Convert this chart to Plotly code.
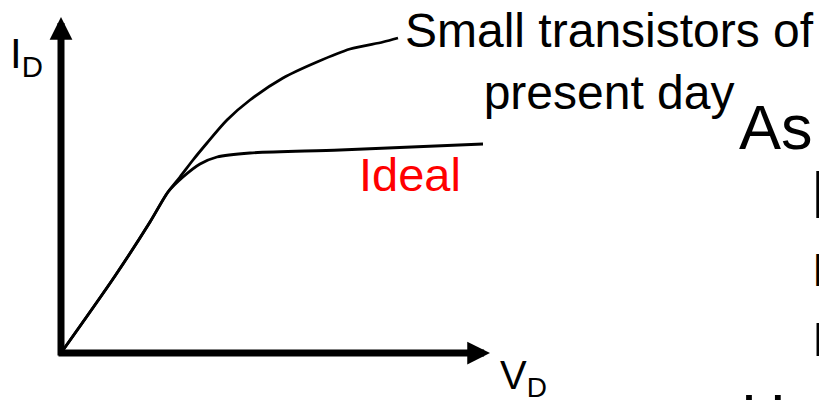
import plotly.graph_objects as go

# ---- data (V_D, I_D in arbitrary units) ----
vd_small = [0.0, 1.35, 2.225, 2.675, 2.975, 3.3, 3.65, 4.15, 4.725, 5.55, 6.4, 7.225, 8.05, 8.425]
id_small = [0.0, 1.925, 3.275, 4.025, 4.4, 4.825, 5.25, 5.825, 6.325, 6.875, 7.275, 7.6, 7.775, 7.875]
vd_ideal = [0.0, 1.35, 2.225, 2.675, 3.05, 3.475, 3.9, 4.725, 6.975, 10.55]
id_ideal = [0.0, 1.925, 3.275, 4.025, 4.4, 4.725, 4.9, 5.0, 5.075, 5.225]

x_axis_end = 10.725
y_axis_end = 8.4

W, H = 819, 400
X_RANGE = [-61 / 40, (W - 61) / 40]
Y_RANGE = [-(H - 353) / 40, 353 / 40]

FONT = "Arial, Liberation Sans, sans-serif"

fig = go.Figure()
fig.add_trace(go.Scatter(x=vd_small, y=id_small, mode="lines",
                         line=dict(color="black", width=2.8, shape="spline", smoothing=0.8),
                         hoverinfo="skip"))
fig.add_trace(go.Scatter(x=vd_ideal, y=id_ideal, mode="lines",
                         line=dict(color="black", width=2.8, shape="spline", smoothing=0.8),
                         hoverinfo="skip"))


def px2paper(px, py):
    return px / W, 1 - py / H


annotations = []
# axes arrows
annotations.append(dict(x=x_axis_end, y=0, ax=-0.1, ay=0, xref="x", yref="y", axref="x", ayref="y",
                        text="", showarrow=True, arrowhead=2, arrowwidth=7, arrowsize=0.65,
                        arrowcolor="black", standoff=0))
annotations.append(dict(x=0, y=y_axis_end, ax=0, ay=-0.1, xref="x", yref="y", axref="x", ayref="y",
                        text="", showarrow=True, arrowhead=2, arrowwidth=7, arrowsize=0.65,
                        arrowcolor="black", standoff=0))


def label(text, px, py, size, color="black", xanchor="left", align="left"):
    x, y = px2paper(px, py)
    annotations.append(dict(x=x, y=y, xref="paper", yref="paper", text=text, showarrow=False,
                            xanchor=xanchor, yanchor="top", align=align,
                            font=dict(family=FONT, size=size, color=color)))


label("I<sub>D</sub>", 7.8, 28.1, 42)
label("V<sub>D</sub>", 498, 351.4, 40)
label("Small transistors of<br>present day", 609.5, 2.4, 48, xanchor="center", align="center")
label("Ideal", 357.0, 146.3, 47, color="#ff0000")
label("As", 737.0, 90.0, 63)
label("I", 808.3, 154.1, 68)
label("I", 809.8, 242.3, 46)
label("I", 809.6, 309.7, 49)
label("H", 739.0, 379.3, 62)

fig.update_layout(
    width=W, height=H,
    margin=dict(l=0, r=0, t=0, b=0),
    paper_bgcolor="white", plot_bgcolor="white",
    showlegend=False,
    xaxis=dict(range=X_RANGE, visible=False, fixedrange=True),
    yaxis=dict(range=Y_RANGE, visible=False, fixedrange=True),
    annotations=annotations,
)

fig.write_html("out.html",
               config={"displayModeBar": False},
               post_script="document.body.style.margin='0';document.body.style.overflow='hidden';")
